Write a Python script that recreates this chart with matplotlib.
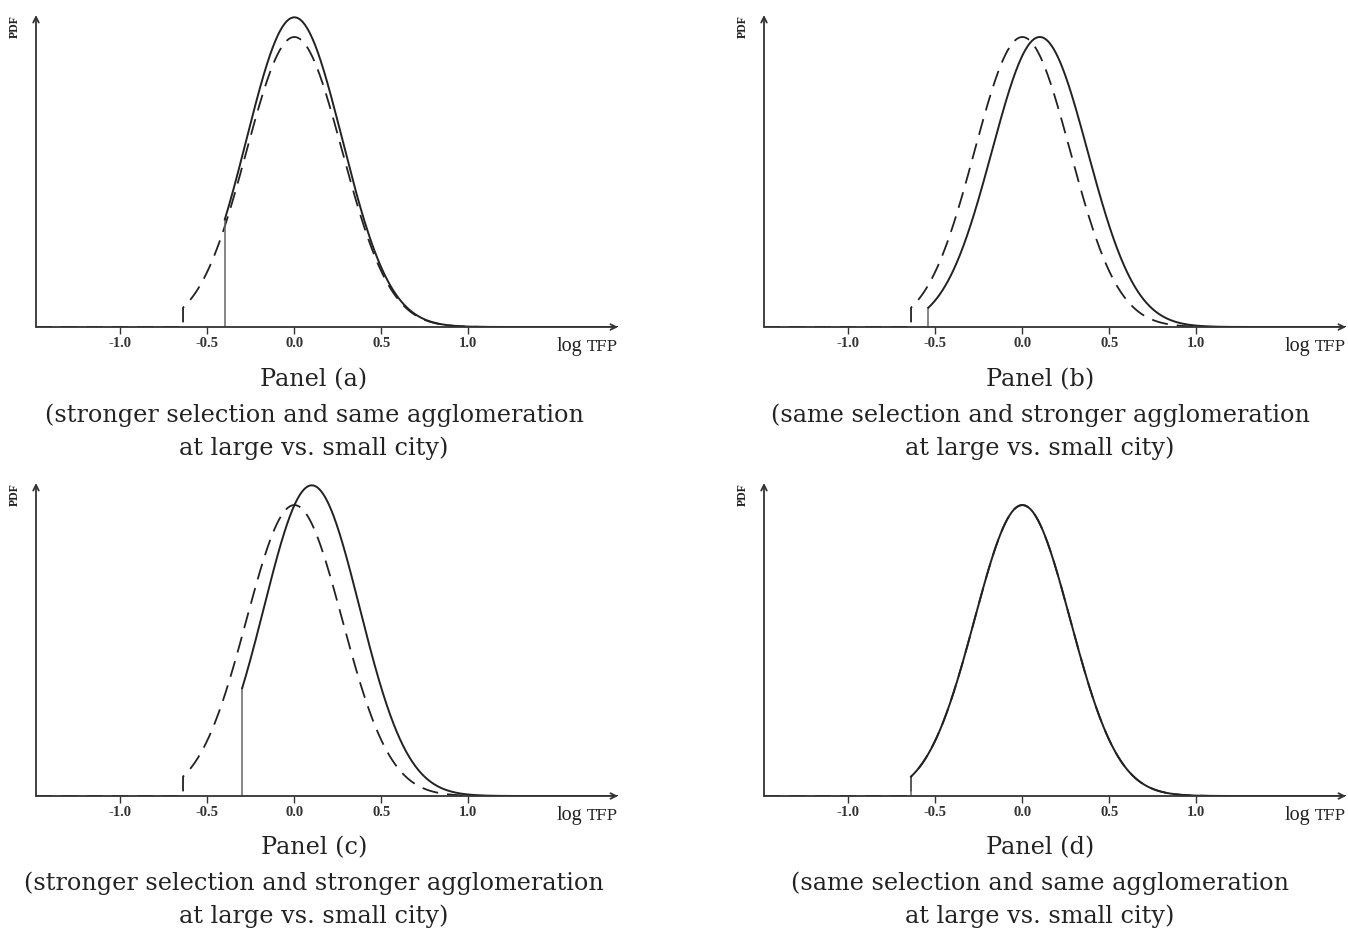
import math
import numpy as np
import matplotlib
matplotlib.use("Agg")
import matplotlib.pyplot as plt

# truncated-normal log TFP densities
panel_ids = ["a", "b", "c", "d"]
sigma = 0.275
small_mean = [0.0, 0.0, 0.0, 0.0]      # dashed: small city
small_cut = [-0.64, -0.64, -0.64, -0.64]
large_mean = [0.0, 0.1, 0.1, 0.0]      # solid: large city
large_cut = [-0.40, -0.54, -0.30, -0.64]
xticks = [-1.0, -0.5, 0.0, 0.5, 1.0]
xtick_labels = ["-1.0", "-0.5", "0.0", "0.5", "1.0"]
captions = [
    ["Panel (a)", "(stronger selection and same agglomeration", "at large vs. small city)"],
    ["Panel (b)", "(same selection and stronger agglomeration", "at large vs. small city)"],
    ["Panel (c)", "(stronger selection and stronger agglomeration", "at large vs. small city)"],
    ["Panel (d)", "(same selection and same agglomeration", "at large vs. small city)"],
]

W, H = 1348, 934
XMIN, XMAX = -1.485, 1.86
SERIF = ["Liberation Serif", "DejaVu Serif"]
CAPFONT = ["DejaVu Serif"]
INK = "#222222"


def trunc_pdf(x, mu, cut):
    z = (x - mu) / sigma
    mass = 1 - 0.5 * (1 + math.erf((cut - mu) / sigma / math.sqrt(2)))
    return np.exp(-0.5 * z**2) / (sigma * math.sqrt(2 * math.pi)) / mass


def curve(mu, cut):
    xs = np.linspace(cut, XMAX, 600)
    x = np.concatenate([[XMIN, cut], xs])
    y = np.concatenate([[0.0, 0.0], trunc_pdf(xs, mu, cut)])
    return x, y


peak_small = trunc_pdf(np.array([0.0]), 0.0, -0.64)[0]
YTOP = peak_small * 312 / 290

# pixel boxes: left, right, bottom (axis line), top (arrow)
boxes = [(36, 618, 327, 15), (764, 1346, 327, 15),
         (36, 618, 796, 483), (764, 1346, 796, 483)]
cap_x = [314, 1040, 314, 1040]
cap_y = [[380, 415, 448], [380, 415, 448], [848, 883, 916], [848, 883, 916]]

fig = plt.figure(figsize=(W / 100, H / 100), dpi=100)

for i, pid in enumerate(panel_ids):
    l, r, b, t = boxes[i]
    ax = fig.add_axes([l / W, (H - b) / H, (r - l) / W, (b - t) / H])
    ax.set_xlim(XMIN, XMAX)
    ax.set_ylim(0, YTOP)
    for s in ax.spines.values():
        s.set_visible(False)

    xd, yd = curve(small_mean[i], small_cut[i])
    ax.plot(xd, yd, color=INK, lw=1.3, dashes=(9, 5), zorder=2)
    xs_, ys_ = curve(large_mean[i], large_cut[i])
    # light vertical jump at the cut-off, then the solid density
    ax.plot(xs_[1:3], [0, ys_[2]], color="#666666", lw=1.1, zorder=3)
    ax.plot(xs_[2:], ys_[2:], color=INK, lw=1.4, zorder=3)

    # axes with arrowheads
    ax.annotate("", xy=(1.0, 0), xytext=(0, 0), xycoords="axes fraction",
                arrowprops=dict(arrowstyle="->", color="#333333", lw=1.3,
                                shrinkA=0, shrinkB=0))
    ax.annotate("", xy=(0, 1.0), xytext=(0, 0), xycoords="axes fraction",
                arrowprops=dict(arrowstyle="->", color="#333333", lw=1.3,
                                shrinkA=0, shrinkB=0))

    ax.set_yticks([])
    ax.set_xticks(xticks)
    ax.set_xticklabels(xtick_labels, family=SERIF, fontsize=10.5, fontweight="bold",
                       color="#333333")
    ax.tick_params(axis="x", direction="out", length=5, width=1, color="#333333", pad=2)

    ax.annotate("TFP", xy=(1.0, 0), xycoords="axes fraction", xytext=(0, -17),
                textcoords="offset points", ha="right", va="baseline",
                family=CAPFONT, fontsize=11, color=INK)
    ax.annotate("log", xy=(1.0, 0), xycoords="axes fraction", xytext=(-26, -17),
                textcoords="offset points", ha="right", va="baseline",
                family=SERIF, fontsize=14.5, color=INK)
    ax.text(-0.037, 1.0, "PDF", transform=ax.transAxes, ha="center", va="top",
            rotation=90, family=SERIF, fontsize=8.5, fontweight="bold", color=INK)

    for line, yy in zip(captions[i], cap_y[i]):
        fig.text(cap_x[i] / W, 1 - yy / H, line, ha="center", va="center",
                 family=CAPFONT, fontsize=17.2, color=INK)

fig.savefig("out.png", dpi=100)
